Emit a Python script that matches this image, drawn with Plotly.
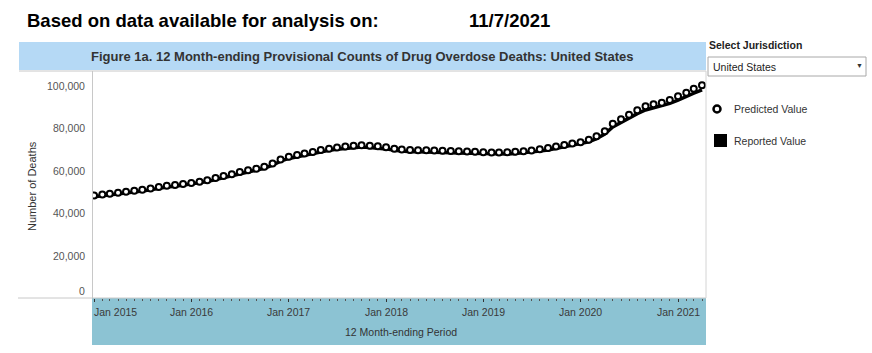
import plotly.graph_objects as go
import pandas as pd

# ---------------- data ----------------
months = pd.date_range("2015-01-01", "2021-04-01", freq="MS")

predicted = [
    48300, 48700, 49100, 49500, 50000, 50500, 51000, 51600, 52300, 52800, 53200, 53700,
    54100, 54700, 55400, 56500, 57400, 58300, 59300, 60100, 60900, 61800, 63300, 65200,
    66500, 67300, 68000, 68700, 69700, 70300, 70800, 71300, 71700, 71900, 71700, 71400,
    71000, 70300, 69900, 69700, 69600, 69600, 69400, 69300, 69200, 69100, 69000, 68800,
    68600, 68500, 68500, 68600, 68800, 69100, 69500, 70000, 70600, 71300, 72000, 72700,
    73300, 74500, 76200, 78500, 82000, 84200, 86300, 88400, 90300, 91200, 91900, 93200,
    95000, 96600, 98500, 100200,
]

reported = [
    47700, 48100, 48500, 48900, 49400, 49900, 50400, 51000, 51700, 52200, 52600, 53100,
    53500, 54100, 54800, 55800, 56700, 57600, 58600, 59400, 60200, 61100, 62500, 64400,
    65700, 66500, 67200, 67900, 68900, 69500, 70000, 70500, 70900, 71100, 70900, 70600,
    70200, 69500, 69100, 68900, 68800, 68800, 68600, 68500, 68400, 68300, 68200, 68000,
    67800, 67700, 67700, 67800, 68000, 68300, 68700, 69200, 69700, 70400, 71100, 71700,
    72400, 73500, 75000, 77200, 80500, 82700, 84800, 86800, 88500, 89600, 90400, 91600,
    93200, 94700, 96400, 98000,
]

y_tick_vals = [0, 20000, 40000, 60000, 80000, 100000]
y_tick_text = ["0", "20,000", "40,000", "60,000", "80,000", "100,000"]
x_tick_vals = ["2015-01-01", "2016-01-01", "2017-01-01", "2018-01-01",
               "2019-01-01", "2020-01-01", "2021-01-01"]
x_tick_text = ["Jan 2015", "Jan 2016", "Jan 2017", "Jan 2018",
               "Jan 2019", "Jan 2020", "Jan 2021"]

# ---------------- layout helpers (pixel -> paper) ----------------
W, H = 872, 353
L, R, T, B = 93, 706, 72, 298


def px(x):
    return (x - L) / (R - L)


def py(y):
    return (B - y) / (B - T)


FONT = "Arial, Liberation Sans, sans-serif"

fig = go.Figure()

fig.add_trace(go.Scatter(
    x=months, y=reported, mode="lines", name="Reported Value",
    line=dict(color="black", width=3.5), showlegend=False, hoverinfo="skip",
))
fig.add_trace(go.Scatter(
    x=months, y=predicted, mode="markers", name="Predicted Value",
    marker=dict(symbol="circle", size=6, color="white",
                line=dict(color="black", width=2)),
    showlegend=False,
))

shapes = [
    # title band
    dict(type="rect", xref="paper", yref="paper", x0=px(19), x1=px(706),
         y0=py(70), y1=py(42), fillcolor="#b5d9f5", line=dict(width=0), layer="below"),
    # x-axis band
    dict(type="rect", xref="paper", yref="paper", x0=px(92), x1=px(706),
         y0=py(345), y1=py(298), fillcolor="#8cc3d3", line=dict(width=0), layer="below"),
    # frame lines
    dict(type="line", xref="paper", yref="paper", x0=px(19), x1=px(706),
         y0=py(71), y1=py(71), line=dict(color="#c8c8c8", width=1)),
    dict(type="line", xref="paper", yref="paper", x0=px(18), x1=px(706),
         y0=py(298), y1=py(298), line=dict(color="#c8c8c8", width=1)),
    dict(type="line", xref="paper", yref="paper", x0=px(92.5), x1=px(92.5),
         y0=py(71), y1=py(298), line=dict(color="#c8c8c8", width=1)),
    dict(type="line", xref="paper", yref="paper", x0=px(706), x1=px(706),
         y0=py(71), y1=py(298), line=dict(color="#d4d4d4", width=1)),
    # dropdown box
    dict(type="rect", xref="paper", yref="paper", x0=px(708), x1=px(866),
         y0=py(76), y1=py(57), fillcolor="white", line=dict(color="#a8a8a8", width=1)),
    # legend symbols
    dict(type="circle", xref="paper", yref="paper", x0=px(713.5), x1=px(720.5),
         y0=py(112.5), y1=py(105.5), fillcolor="white", line=dict(color="black", width=2.5)),
    dict(type="rect", xref="paper", yref="paper", x0=px(714), x1=px(727),
         y0=py(147), y1=py(134), fillcolor="black", line=dict(width=0)),
]

annotations = [
    dict(text="<b>Based on data available for analysis on:</b>", x=px(25), y=py(20),
         xanchor="left", yanchor="middle", font=dict(size=18.5, color="black", family=FONT)),
    dict(text="<b>11/7/2021</b>", x=px(467), y=py(20),
         xanchor="left", yanchor="middle", font=dict(size=18.5, color="black", family=FONT)),
    dict(text="<b>Figure 1a. 12 Month-ending Provisional Counts of Drug Overdose Deaths: United States</b>",
         x=px(362), y=py(56.5), xanchor="center", yanchor="middle",
         font=dict(size=13, color="#333333", family=FONT)),
    dict(text="Number of Deaths", x=px(32), y=py(186), textangle=-90,
         xanchor="center", yanchor="middle", font=dict(size=11, color="#333333", family=FONT)),
    dict(text="12 Month-ending Period", x=px(401), y=py(332),
         xanchor="center", yanchor="middle", font=dict(size=10.5, color="#333333", family=FONT)),
    dict(text="<b>Select Jurisdiction</b>", x=px(707), y=py(45),
         xanchor="left", yanchor="middle", font=dict(size=10.5, color="#222222", family=FONT)),
    dict(text="United States", x=px(711), y=py(66.5),
         xanchor="left", yanchor="middle", font=dict(size=10.5, color="#222222", family=FONT)),
    dict(text="▼", x=px(859), y=py(66), xanchor="center", yanchor="middle",
         font=dict(size=7, color="#333333", family=FONT)),
    dict(text="Predicted Value", x=px(732), y=py(109),
         xanchor="left", yanchor="middle", font=dict(size=10.5, color="#333333", family=FONT)),
    dict(text="Reported Value", x=px(732), y=py(141),
         xanchor="left", yanchor="middle", font=dict(size=10.5, color="#333333", family=FONT)),
]

for v, t in zip(y_tick_vals, y_tick_text):
    annotations.append(dict(
        text=t, x=px(87), xref="paper", y=v, yref="y", xanchor="right", yanchor="middle",
        yshift=7 if v == 0 else 0, showarrow=False,
        font=dict(size=10.5, color="#555555", family=FONT)))

for i, (v, t) in enumerate(zip(x_tick_vals, x_tick_text)):
    annotations.append(dict(
        text=t, x=v, xref="x", y=py(312), yref="paper",
        xanchor="left" if i == 0 else "center", xshift=-2 if i == 0 else 0,
        yanchor="middle", showarrow=False,
        font=dict(size=10.5, color="#3a3a3a", family=FONT)))

for a in annotations:
    a.setdefault("xref", "paper")
    a.setdefault("yref", "paper")
    a.setdefault("showarrow", False)

fig.update_layout(
    width=W, height=H,
    margin=dict(l=L, r=W - R, t=T, b=H - B, pad=0),
    paper_bgcolor="white", plot_bgcolor="white",
    showlegend=False,
    shapes=shapes, annotations=annotations,
    font=dict(family=FONT),
    xaxis=dict(
        type="date", range=["2014-12-28", "2021-04-16"],
        showgrid=False, zeroline=False, showline=False,
        showticklabels=False, tickvals=x_tick_vals,
        ticks="outside", ticklen=3, tickwidth=1, tickcolor="#333333",
        minor=dict(dtick="M1", tick0="2015-01-01", ticks="outside", ticklen=2,
                   tickwidth=1, tickcolor="#555555", showgrid=False),
        fixedrange=True,
    ),
    yaxis=dict(
        range=[0, 106400], showgrid=False, zeroline=False, showline=False,
        showticklabels=False, ticks="", fixedrange=True,
    ),
)

fig.write_html("out.html")
